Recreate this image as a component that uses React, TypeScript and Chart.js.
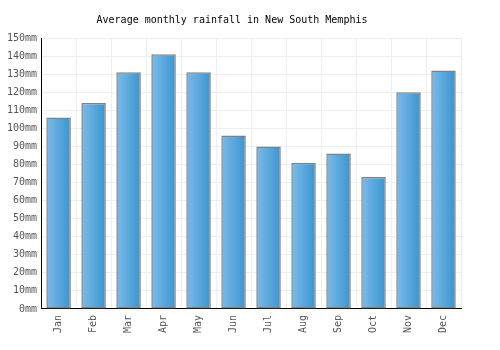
import React, { useEffect, useRef } from "react";
import { Chart, registerables } from "chart.js";

Chart.register(...registerables);

const months = ["Jan", "Feb", "Mar", "Apr", "May", "Jun", "Jul", "Aug", "Sep", "Oct", "Nov", "Dec"];
const rainfall = [106, 114, 131, 141, 131, 96, 90, 81, 86, 73, 120, 132];
const yMax = 150;
const yStep = 10;
const title = "Average monthly rainfall in New South Memphis";
const FONT = "'DejaVu Sans Mono', 'Liberation Mono', monospace";

export default function App() {
  const ref = useRef<HTMLCanvasElement>(null);
  useEffect(() => {
    const canvas = ref.current!;
    const barPct = 0.7;
    const chart = new Chart(canvas, {
      type: "bar",
      data: {
        labels: months,
        datasets: [
          {
            data: rainfall,
            backgroundColor: (ctx: any) => {
              const c = ctx.chart;
              const xs = c.scales && c.scales.x;
              if (!c.chartArea || !xs || ctx.dataIndex === undefined) return "#5aa8e0";
              const cx = xs.getPixelForValue(ctx.dataIndex);
              const w = (xs.width / months.length) * barPct;
              const g = c.ctx.createLinearGradient(cx - w / 2, 0, cx + w / 2, 0);
              g.addColorStop(0, "#7cbbea");
              g.addColorStop(1, "#3a95cf");
              return g;
            },
            borderColor: "#808080",
            borderWidth: 1.5,
            borderSkipped: false,
            barPercentage: barPct,
            categoryPercentage: 1,
          },
        ],
      },
      options: {
        responsive: false,
        animation: false,
        layout: { padding: { left: 3, right: 39, top: 0, bottom: 11 } },
        plugins: {
          legend: { display: false },
          tooltip: { enabled: false },
          title: {
            display: true,
            text: title,
            color: "#000",
            font: { family: FONT, size: 10, weight: "normal" },
            padding: { top: 14, bottom: 12 },
          },
        },
        scales: {
          x: {
            grid: { color: "#eeeeee", lineWidth: 1, offset: true, drawTicks: false },
            border: { color: "#000", width: 1 },
            ticks: {
              color: "#555",
              font: { family: FONT, size: 10 },
              maxRotation: 90,
              minRotation: 90,
              padding: 6,
            },
          },
          y: {
            min: 0,
            max: yMax,
            grid: { color: "#eeeeee", lineWidth: 1, drawTicks: false },
            border: { color: "#000", width: 1 },
            ticks: {
              stepSize: yStep,
              color: "#555",
              font: { family: FONT, size: 10 },
              padding: 4,
              callback: (v: any) => v + "mm",
            },
          },
        },
      },
    } as any);
    return () => chart.destroy();
  }, []);
  return (
    <div style={{ position: "absolute", left: 0, top: 0, width: 500, height: 350, background: "#fff" }}>
      <canvas ref={ref} width={500} height={350} />
    </div>
  );
}
